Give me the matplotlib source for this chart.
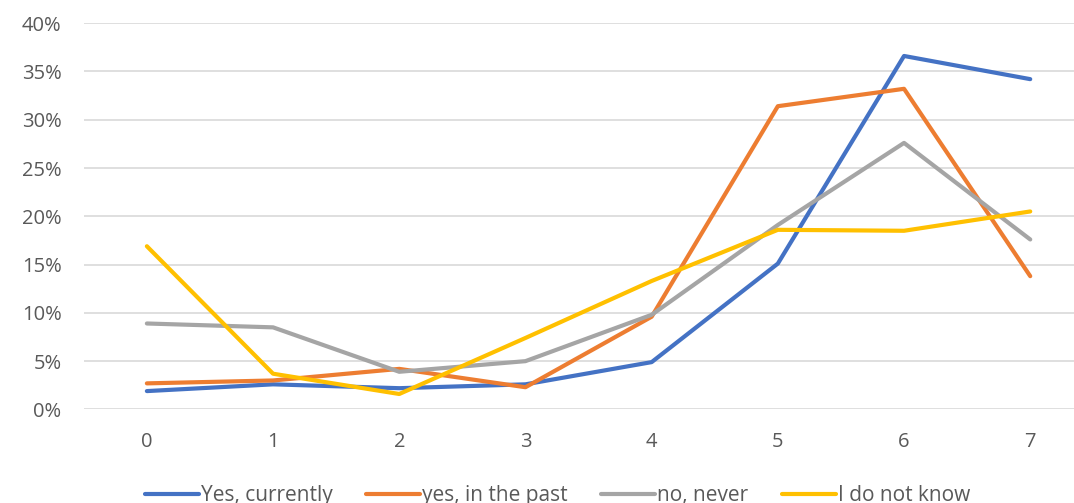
import matplotlib.pyplot as plt
from matplotlib.ticker import PercentFormatter

plt.rcParams['font.family'] = ['Open Sans', 'DejaVu Sans']

# data (share of answers)
categories = [0, 1, 2, 3, 4, 5, 6, 7]
yes_currently = [0.019, 0.026, 0.022, 0.026, 0.049, 0.151, 0.366, 0.342]
yes_past = [0.027, 0.030, 0.042, 0.023, 0.096, 0.314, 0.332, 0.138]
no_never = [0.089, 0.085, 0.039, 0.050, 0.098, 0.191, 0.276, 0.176]
dont_know = [0.169, 0.037, 0.016, 0.074, 0.133, 0.186, 0.185, 0.205]

series = [
    ('Yes, currently', yes_currently, '#4472C4'),
    ('yes, in the past', yes_past, '#ED7D31'),
    ('no, never', no_never, '#A5A5A5'),
    ('I do not know', dont_know, '#FFC000'),
]

fig = plt.figure(figsize=(10.74, 5.03), dpi=100)
ax = fig.add_axes([0.078, 0.186, 0.94, 0.768])

for label, vals, color in series:
    ax.plot(categories, vals, color=color, lw=3, label=label,
            solid_capstyle='round', solid_joinstyle='round')

ax.set_xlim(-0.5, 7.5)
ax.set_ylim(0, 0.40)
ax.set_yticks([i * 0.05 for i in range(9)])
ax.yaxis.set_major_formatter(PercentFormatter(1.0, decimals=0))
ax.set_xticks(categories)
ax.grid(axis='y', color='#D9D9D9', lw=1.2)
ax.set_axisbelow(True)
for s in ax.spines.values():
    s.set_visible(False)
ax.tick_params(length=0, labelsize=14.5, colors='#595959')
ax.tick_params(axis='x', pad=16.5)
ax.tick_params(axis='y', pad=16)

# legend sits at the bottom edge, partly cut off as in the original
fig.legend(loc='center', bbox_to_anchor=(0.519, 0.014), ncol=4, frameon=False,
           fontsize=15, labelcolor='#595959', handlelength=2.6,
           handletextpad=0.1, columnspacing=1.6)

fig.savefig('out.png', dpi=100)
